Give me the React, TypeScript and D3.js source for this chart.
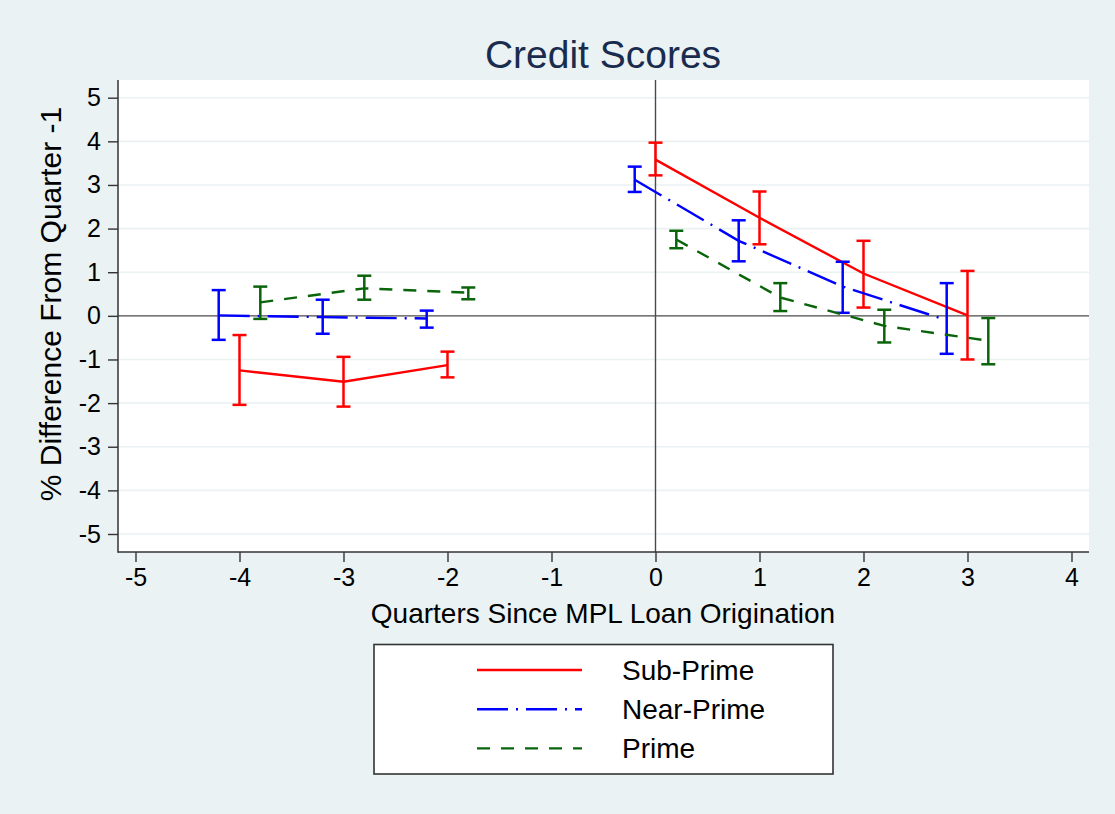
import { useEffect, useRef } from "react";
import * as d3 from "d3";

const quarters = [-4, -3, -2, 0, 1, 2, 3];

const subPrime = [-1.25, -1.51, -1.13, 3.58, 2.25, 0.97, 0.01];
const subPrimeLo = [-2.04, -2.08, -1.41, 3.22, 1.64, 0.19, -1.0];
const subPrimeHi = [-0.44, -0.94, -0.82, 3.97, 2.85, 1.72, 1.03];

const nearPrime = [0.01, -0.03, -0.06, 3.12, 1.72, 0.67, -0.1];
const nearPrimeLo = [-0.55, -0.41, -0.27, 2.84, 1.25, 0.07, -0.87];
const nearPrimeHi = [0.59, 0.37, 0.12, 3.42, 2.19, 1.24, 0.75];

const prime = [0.31, 0.63, 0.53, 1.75, 0.42, -0.23, -0.57];
const primeLo = [-0.07, 0.37, 0.38, 1.55, 0.11, -0.61, -1.11];
const primeHi = [0.67, 0.92, 0.65, 1.95, 0.75, 0.14, -0.05];

const xTicks = [-5, -4, -3, -2, -1, 0, 1, 2, 3, 4];
const yTicks = [5, 4, 3, 2, 1, 0, -1, -2, -3, -4, -5];

const series = [
  { name: "Sub-Prime", shift: 0, mid: subPrime, lo: subPrimeLo, hi: subPrimeHi, color: "#ff0000", dash: "" },
  { name: "Near-Prime", shift: -0.2, mid: nearPrime, lo: nearPrimeLo, hi: nearPrimeHi, color: "#0000ff", dash: "31,8,2,8" },
  { name: "Prime", shift: 0.2, mid: prime, lo: primeLo, hi: primeHi, color: "#0a640a", dash: "13,11" },
];

const W = 1115;
const H = 814;
const FONT = "'Liberation Sans', Arial, sans-serif";

export default function App() {
  const svgRef = useRef<SVGSVGElement>(null);

  useEffect(() => {
    document.body.style.margin = "0";
    if (!svgRef.current) return;
    const svg = d3.select(svgRef.current);
    svg.selectAll("*").remove();

    const left = 118;
    const right = 1089;
    const top = 80;
    const bottom = 552;

    const x = d3.scaleLinear().domain([-5, 4]).range([135.5, 1071.5]);
    const y = d3.scaleLinear().domain([-5, 5]).range([534, 97.7]);

    svg.append("rect").attr("width", W).attr("height", H).attr("fill", "#eaf2f3");
    svg.append("rect").attr("x", left).attr("y", top).attr("width", right - left).attr("height", bottom - top).attr("fill", "#fff");

    // horizontal grid
    svg.append("g").selectAll("line").data(yTicks.filter((t) => t !== 0)).enter().append("line")
      .attr("x1", left).attr("x2", right).attr("y1", (d) => y(d)).attr("y2", (d) => y(d))
      .attr("stroke", "#eaf2f3").attr("stroke-width", 1.6);

    // zero reference lines
    svg.append("line").attr("x1", left).attr("x2", right).attr("y1", y(0)).attr("y2", y(0))
      .attr("stroke", "#4a4a4a").attr("stroke-width", 1.4);
    svg.append("line").attr("x1", x(0)).attr("x2", x(0)).attr("y1", top).attr("y2", bottom)
      .attr("stroke", "#4a4a4a").attr("stroke-width", 1.4);

    // axes
    const fmt = (d: d3.NumberValue) => String(d);
    const yAxis = svg.append("g").attr("transform", `translate(${left},0)`)
      .call(d3.axisLeft(y).tickValues(yTicks).tickSize(10).tickPadding(7).tickFormat(fmt));
    const xAxis = svg.append("g").attr("transform", `translate(0,${bottom})`)
      .call(d3.axisBottom(x).tickValues(xTicks).tickSize(10).tickPadding(6).tickFormat(fmt));
    [yAxis, xAxis].forEach((a) => {
      a.select(".domain").remove();
      a.selectAll(".tick line").attr("stroke", "#333").attr("stroke-width", 1.4);
      a.selectAll(".tick text").attr("fill", "#000").attr("font-size", "25px").attr("font-family", FONT);
    });
    svg.append("line").attr("x1", left).attr("x2", left).attr("y1", top).attr("y2", bottom + 0.7)
      .attr("stroke", "#333").attr("stroke-width", 1.5);
    svg.append("line").attr("x1", left).attr("x2", right).attr("y1", bottom).attr("y2", bottom)
      .attr("stroke", "#333").attr("stroke-width", 1.5);

    // series
    const line = d3.line<[number, number]>().x((d) => x(d[0])).y((d) => y(d[1]));
    series.forEach((s) => {
      const pts = quarters.map((q, i) => ({ q: q + s.shift, v: s.mid[i], lo: s.lo[i], hi: s.hi[i], pre: q < 0 }));
      [true, false].forEach((pre) => {
        const seg = pts.filter((p) => p.pre === pre).map((p) => [p.q, p.v] as [number, number]);
        svg.append("path").attr("d", line(seg)).attr("fill", "none")
          .attr("stroke", s.color).attr("stroke-width", 2.4).attr("stroke-dasharray", s.dash);
      });
      const bars = svg.append("g").attr("stroke", s.color).attr("stroke-width", 2.5).attr("fill", "none");
      pts.forEach((p) => {
        bars.append("line").attr("x1", x(p.q)).attr("x2", x(p.q)).attr("y1", y(p.lo)).attr("y2", y(p.hi));
        bars.append("line").attr("x1", x(p.q) - 7).attr("x2", x(p.q) + 7).attr("y1", y(p.lo)).attr("y2", y(p.lo));
        bars.append("line").attr("x1", x(p.q) - 7).attr("x2", x(p.q) + 7).attr("y1", y(p.hi)).attr("y2", y(p.hi));
      });
    });

    // titles
    svg.append("text").attr("x", 603).attr("y", 68).attr("text-anchor", "middle")
      .attr("font-family", FONT).attr("font-size", "39px").attr("fill", "#1a2c4e").text("Credit Scores");
    svg.append("text").attr("x", 603).attr("y", 623).attr("text-anchor", "middle")
      .attr("font-family", FONT).attr("font-size", "28px").attr("fill", "#000")
      .text("Quarters Since MPL Loan Origination");
    svg.append("text").attr("transform", `translate(61,304) rotate(-90)`).attr("text-anchor", "middle")
      .attr("font-family", FONT).attr("font-size", "30px").attr("fill", "#000")
      .text("% Difference From Quarter -1");

    // legend
    svg.append("rect").attr("x", 374).attr("y", 644.5).attr("width", 459).attr("height", 129.5)
      .attr("fill", "#fff").attr("stroke", "#333").attr("stroke-width", 1.6);
    series.forEach((s, i) => {
      const ly = 670 + i * 39.2;
      svg.append("line").attr("x1", 477).attr("x2", 582).attr("y1", ly).attr("y2", ly)
        .attr("stroke", s.color).attr("stroke-width", 2.4).attr("stroke-dasharray", s.dash);
      svg.append("text").attr("x", 622).attr("y", ly + 10).attr("font-family", FONT)
        .attr("font-size", "28px").attr("fill", "#000").text(s.name);
    });
  }, []);

  return (
    <div style={{ position: "absolute", left: 0, top: 0 }}>
      <svg ref={svgRef} width={W} height={H} />
    </div>
  );
}
